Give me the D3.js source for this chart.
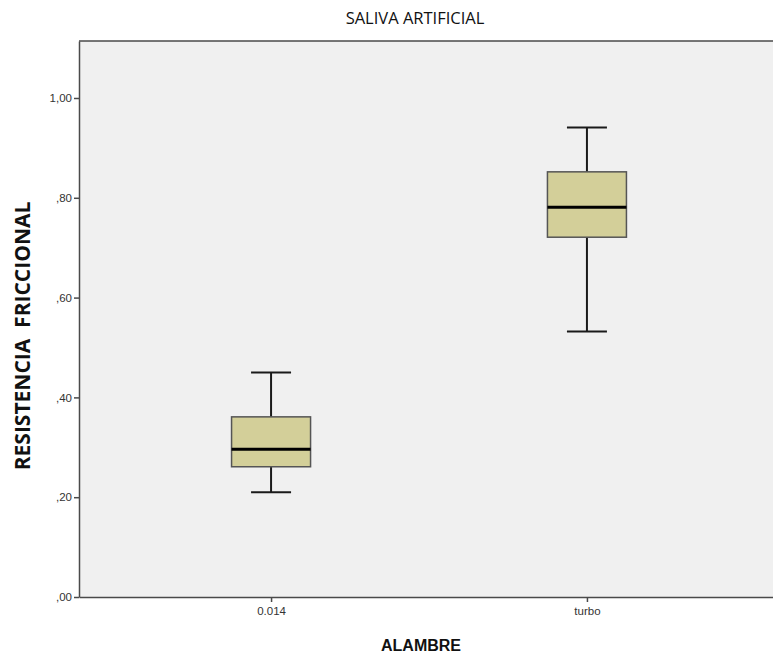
<!DOCTYPE html>
<html><head><meta charset="utf-8">
<script src="https://cdn.jsdelivr.net/npm/d3@7"></script>
<style>html,body{margin:0;background:#fff;overflow:hidden}svg{display:block;overflow:hidden}</style>
</head><body>
<script>
const categories = ["0.014", "turbo"];
const whiskerLow = [0.21, 0.532];
const q1 = [0.261, 0.721];
const median = [0.296, 0.781];
const q3 = [0.361, 0.852];
const whiskerHigh = [0.45, 0.941];
const yTicks = [0, 0.2, 0.4, 0.6, 0.8, 1.0];
const yTickLabels = [",00", ",20", ",40", ",60", ",80", "1,00"];

const W = 773, H = 656;
const L = 79, R = 779, T = 41, B = 597;
const svg = d3.select("body").append("svg").attr("width", W).attr("height", H);

const x = d3.scalePoint().domain(categories).range([L, R]).padding(0.608);
const y = d3.scaleLinear().domain([0, 1.1142]).range([B, T]);

svg.append("rect").attr("x", L).attr("y", T).attr("width", W - L).attr("height", B - T)
  .attr("fill", "#f0f0f0");
svg.append("line").attr("x1", L).attr("x2", W).attr("y1", T).attr("y2", T)
  .attr("stroke", "#4a4a4a").attr("stroke-width", 1.5);

const yAxis = svg.append("g").attr("transform", `translate(${L},0)`)
  .call(d3.axisLeft(y).tickValues(yTicks).tickSize(5).tickSizeOuter(0).tickPadding(2)
    .tickFormat((d, i) => yTickLabels[i]));
const xAxis = svg.append("g").attr("transform", `translate(0,${B})`)
  .call(d3.axisBottom(x).tickSize(5).tickSizeOuter(0).tickPadding(5));
[yAxis, xAxis].forEach(g => {
  g.select(".domain").attr("stroke", "#4a4a4a").attr("stroke-width", 1.5);
  g.selectAll(".tick line").attr("stroke", "#4a4a4a").attr("stroke-width", 1.5);
  g.selectAll(".tick text").attr("fill", "#333").attr("font-family", "Arial, 'Liberation Sans', sans-serif").attr("font-size", 11.5);
});

const boxW = 79, capW = 40;
const data = categories.map((c, i) => ({c, lo: whiskerLow[i], q1: q1[i], md: median[i], q3: q3[i], hi: whiskerHigh[i]}));
const g = svg.append("g").selectAll("g").data(data).join("g");
g.append("line").attr("x1", d => x(d.c)).attr("x2", d => x(d.c))
  .attr("y1", d => y(d.hi)).attr("y2", d => y(d.q3)).attr("stroke", "#1a1a1a").attr("stroke-width", 2);
g.append("line").attr("x1", d => x(d.c)).attr("x2", d => x(d.c))
  .attr("y1", d => y(d.q1)).attr("y2", d => y(d.lo)).attr("stroke", "#1a1a1a").attr("stroke-width", 2);
g.append("line").attr("x1", d => x(d.c) - capW / 2).attr("x2", d => x(d.c) + capW / 2)
  .attr("y1", d => y(d.hi)).attr("y2", d => y(d.hi)).attr("stroke", "#1a1a1a").attr("stroke-width", 2);
g.append("line").attr("x1", d => x(d.c) - capW / 2).attr("x2", d => x(d.c) + capW / 2)
  .attr("y1", d => y(d.lo)).attr("y2", d => y(d.lo)).attr("stroke", "#1a1a1a").attr("stroke-width", 2);
g.append("rect").attr("x", d => x(d.c) - boxW / 2).attr("width", boxW)
  .attr("y", d => y(d.q3)).attr("height", d => y(d.q1) - y(d.q3))
  .attr("fill", "#d3cf99").attr("stroke", "#555").attr("stroke-width", 1.5);
g.append("line").attr("x1", d => x(d.c) - boxW / 2).attr("x2", d => x(d.c) + boxW / 2)
  .attr("y1", d => y(d.md)).attr("y2", d => y(d.md)).attr("stroke", "#000").attr("stroke-width", 3);

svg.append("text").attr("x", 415).attr("y", 24).attr("text-anchor", "middle")
  .attr("font-family", "'Open Sans', sans-serif").attr("font-size", 16.5).attr("fill", "#111")
  .text("SALIVA ARTIFICIAL");
svg.append("text").attr("x", 421).attr("y", 651).attr("text-anchor", "middle")
  .attr("font-family", "Arial, 'Liberation Sans', sans-serif").attr("font-weight", "bold")
  .attr("font-size", 16).attr("fill", "#111").text("ALAMBRE");
svg.append("text").attr("transform", "translate(30,336) rotate(-90)").attr("text-anchor", "middle")
  .attr("font-family", "'Open Sans', sans-serif").attr("font-weight", "bold")
  .attr("font-size", 21).attr("fill", "#111").style("white-space", "pre")
  .text("RESISTENCIA  FRICCIONAL");
</script>
</body></html>
